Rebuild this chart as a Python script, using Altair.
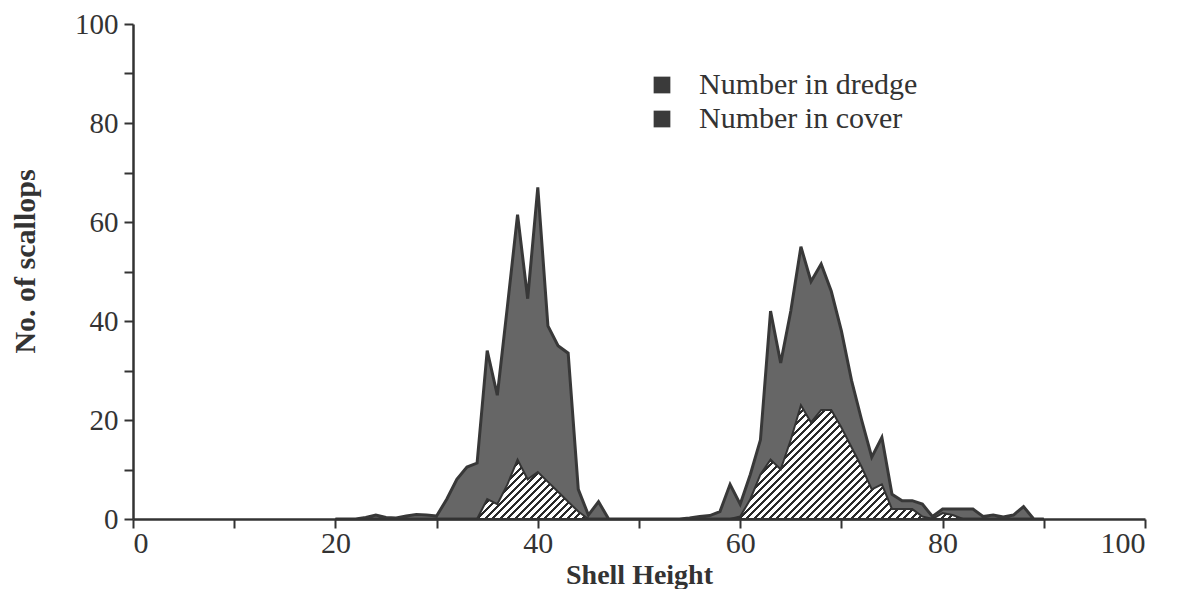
import altair as alt
import pandas as pd

# ---- data ----
shell_height = list(range(20, 91))

number_in_cover = [
    0, 0, 0, 0.3, 0.8, 0.3, 0.2, 0.6, 0.9, 0.8,        # 20-29
    0.6, 4, 8, 10.5, 11.3, 34, 25, 43, 61.5, 44.5,     # 30-39
    67, 39, 35, 33.5, 6, 0.8, 3.5, 0, 0, 0,            # 40-49
    0, 0, 0, 0, 0, 0.2, 0.5, 0.7, 1.5, 7,              # 50-59
    3, 9, 16, 42, 31.5, 42, 55, 48, 51.5, 46,          # 60-69
    38, 28, 20, 12.5, 16.5, 5, 3.7, 3.7, 3, 0.5,       # 70-79
    2, 2, 2, 2, 0.5, 0.8, 0.4, 0.8, 2.5, 0,            # 80-89
    0,                                                 # 90
]

number_in_dredge = [
    0, 0, 0, 0, 0, 0, 0, 0, 0, 0,                      # 20-29
    0, 0, 0, 0, 0, 4, 3, 7, 12, 8,                     # 30-39
    9.5, 7.5, 5.5, 3.5, 1.5, 0, 0, 0, 0, 0,            # 40-49
    0, 0, 0, 0, 0, 0, 0, 0, 0, 0,                      # 50-59
    0.5, 4, 9, 12, 10, 16, 23, 19.5, 22, 22,           # 60-69
    18.5, 14.5, 10.5, 6, 7, 2, 2, 2, 0.5, 0,           # 70-79
    1.2, 0.8, 0, 0, 0, 0, 0, 0, 0, 0,                  # 80-89
    0,                                                 # 90
]

legend_labels = ["Number in dredge", "Number in cover"]
x_ticks = list(range(0, 101, 10))
y_ticks = list(range(0, 101, 10))

# ---- layout / style ----
W, H = 1012, 495
FONT = "Liberation Serif"
INK = "#333333"

df = pd.DataFrame({
    "Shell Height": shell_height,
    "cover": number_in_cover,
    "dredge": number_in_dredge,
})

# diagonal hatching for the dredge area, built as a hard-stop linear gradient
x_span = (max(shell_height) - min(shell_height)) / 100 * W
y_span = max(number_in_dredge) / 100 * H
period = 7.5
n = int(round((x_span + y_span) / period))
k = y_span / x_span
gx2 = (1 + k) / (1 + k * k)
gy2 = k * gx2
stops = []
for i in range(n):
    a = i / n
    b = (i + 0.4) / n
    c = (i + 1) / n
    stops += [
        alt.GradientStop(offset=a, color="#2a2a2a"),
        alt.GradientStop(offset=b, color="#2a2a2a"),
        alt.GradientStop(offset=b, color="#ffffff"),
        alt.GradientStop(offset=c, color="#ffffff"),
    ]
hatch = alt.LinearGradient(gradient="linear", stops=stops, x1=0, y1=0, x2=gx2, y2=gy2)

x_scale = alt.Scale(domain=[0, 100], nice=False, zero=False)
y_scale = alt.Scale(domain=[0, 100], nice=False)

x_axis = alt.Axis(
    values=x_ticks,
    labelExpr="datum.value % 20 === 0 ? datum.label : ''",
    grid=False, tickSize=9, tickWidth=2, tickColor=INK,
    domainColor=INK, domainWidth=2.5,
    labelFont=FONT, labelFontSize=30, labelColor=INK, labelPadding=0,
    titleFont=FONT, titleFontSize=28, titleFontWeight="bold", titleColor=INK,
    titleY=56, titleBaseline="middle",
)
y_axis = alt.Axis(
    values=y_ticks,
    labelExpr="datum.value % 20 === 0 ? datum.label : ''",
    grid=False, tickSize=9, tickWidth=2, tickColor=INK,
    domainColor=INK, domainWidth=2.5,
    labelFont=FONT, labelFontSize=29, labelColor=INK, labelPadding=6,
    titleFont=FONT, titleFontSize=30, titleFontWeight="bold", titleColor=INK,
    titleX=-108, titleY=237, titleAlign="center", titleBaseline="middle",
)

base = alt.Chart(df)

cover = base.mark_area(
    fill="#666666", stroke="#383838", strokeWidth=3, strokeJoin="miter",
    interpolate="linear",
).encode(
    x=alt.X("Shell Height:Q", scale=x_scale, axis=x_axis, title="Shell Height"),
    y=alt.Y("cover:Q", scale=y_scale, axis=y_axis, title="No. of scallops"),
)

dredge = base.mark_area(
    fill=hatch, stroke="#333333", strokeWidth=2, interpolate="linear",
).encode(
    x=alt.X("Shell Height:Q", scale=x_scale),
    y=alt.Y("dredge:Q", scale=y_scale),
)

legend_df = pd.DataFrame({"series": legend_labels, "hx": [200, 200], "vy": [0, 0]})
legend_layer = alt.Chart(legend_df).mark_square(size=200, clip=True).encode(
    x=alt.X("hx:Q", scale=x_scale),
    y=alt.Y("vy:Q", scale=y_scale),
    color=alt.Color(
        "series:N",
        scale=alt.Scale(domain=legend_labels, range=["#3a3a3a", "#3a3a3a"]),
        legend=alt.Legend(
            title=None, orient="none", legendX=514, legendY=46,
            symbolType="square", symbolSize=280, symbolFillColor="#3a3a3a",
            symbolStrokeWidth=0, symbolOpacity=1,
            labelFont=FONT, labelFontSize=30, labelColor=INK,
            labelOffset=22, rowPadding=4, labelLimit=400,
        ),
    ),
)

chart = alt.layer(cover, dredge, legend_layer).properties(
    width=W, height=H,
    autosize=alt.AutoSizeParams(type="none"),
    padding={"left": 125, "top": 16, "right": 24, "bottom": 70},
    background="white",
).configure_view(strokeWidth=0)

chart.save("out.html", embed_options={"renderer": "svg", "actions": False})
